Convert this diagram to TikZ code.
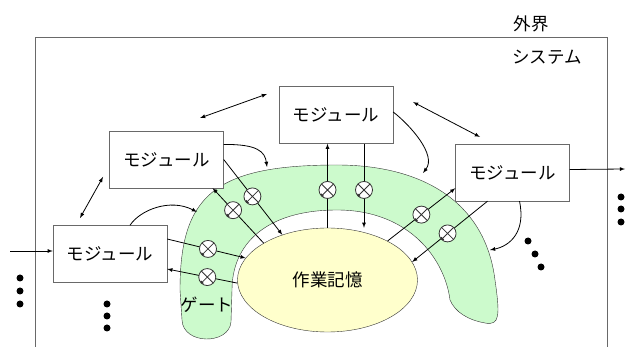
\documentclass[tikz,border=0pt]{standalone}
\usepackage{fontspec}
\setmainfont{Noto Sans CJK JP}
\usepackage{tikz}
\usetikzlibrary{shapes, arrows, positioning, calc}
\definecolor{bandgreen}{RGB}{204,250,204}
\definecolor{memyellow}{RGB}{255,255,204}
\definecolor{framegray}{RGB}{105,105,105}

\begin{document}
\begin{tikzpicture}[x=1pt, y=-1pt, >=latex, font=\fontsize{17.5}{20}\selectfont,
    module/.style={draw=framegray, fill=white, minimum width=114pt, minimum height=57pt, inner sep=0pt},
    gate/.style={circle, draw=black!80, fill=white, minimum size=17pt, inner sep=0pt,
      path picture={\draw[black!80] (path picture bounding box.north west) -- (path picture bounding box.south east)
        (path picture bounding box.north east) -- (path picture bounding box.south west);}},
    link/.style={->, line width=0.8pt},
    twoway/.style={<->, line width=0.8pt}]
    \useasboundingbox (0,0) rectangle (627,347);

    % system frame
    \draw [framegray, thick] (35,347) -- (35,37) -- (607,37) -- (607,347);
    \node (outside) at (531,24) {外界};
    \node (system) at (547,57) {システム};

    % gate band
    \draw [fill=bandgreen, draw=black!80] (180,290) .. controls (180,195) and (215,165) .. (337,165)
      .. controls (420,165) and (485,200) .. (495,280)
      .. controls (500,315) and (500,326) .. (485,323)
      .. controls (468,320) and (455,312) .. (450,300)
      .. controls (445,260) and (410,210) .. (337,210)
      .. controls (265,210) and (232,245) .. (232,290)
      -- (231,322)
      .. controls (229,345) and (183,345) .. (182,320) -- cycle;
    \node (gatelabel) at (207,305) {ゲート};

    \node[ellipse, draw=black!80, fill=memyellow, minimum width=180pt, minimum height=104pt, inner sep=0pt] (wm) at (327.5,280) {作業記憶};

    \node[module] (modtop) at (336,115) {モジュール};
    \node[module] (modleft) at (166.5,159.5) {モジュール};
    \node[module] (modlow) at (110,254) {モジュール};
    \node[module] (modright) at (512.5,172.5) {モジュール};

    \coordinate (inA) at (10,251);
    \coordinate (outA) at (625,169);
    \coordinate (bandA) at (267,167);
    \coordinate (bandB) at (197,212);
    \coordinate (bandC) at (423,173);
    \coordinate (bandD) at (490,250);
    \coordinate (pairA1) at (200,118);
    \coordinate (pairA2) at (267,94);
    \coordinate (pairB1) at (413,102);
    \coordinate (pairB2) at (480,137);
    \coordinate (pairC1) at (103,177);
    \coordinate (pairC2) at (80,218);

    % in and out
    \draw [link] (inA) -- ([yshift=3pt]modlow.west);
    \draw [link] ([yshift=3pt]modright.east) -- (outA);

    % module to module
    \draw [twoway] (pairA1) -- (pairA2);
    \draw [twoway] (pairB1) -- (pairB2);
    \draw [twoway] (pairC1) -- (pairC2);

    % module to band
    \draw [link] ([yshift=15pt]modleft.east) .. controls (258,144) and (265,152) .. (bandA);
    \draw [link] ([xshift=20pt]modlow.north) .. controls (140,210) and (170,198) .. (bandB);
    \draw [link] ([yshift=3pt]modtop.east) .. controls (410,125) and (437,155) .. (bandC);
    \draw [link] ([xshift=7pt]modright.south) .. controls (526,232) and (510,246) .. (bandD);

    % through the gates
    \draw [link] (modleft.east) -- node[gate, pos=0.49] (gA) {} (wm.135);
    \draw [link] (wm.150) -- node[gate, pos=0.6] (gB) {} ([xshift=-11pt]modleft.south east);
    \draw [link] ([yshift=15pt]modlow.east) -- node[gate, pos=0.52] (gC) {} (wm.165);
    \draw [link] (wm.182) -- node[gate, pos=0.43] (gG) {} ([yshift=-15pt]modlow.east);
    \draw [link] (wm.north) -- node[gate, pos=0.45] (gD) {} (wm.north |- modtop.south);
    \draw [link] ([xshift=28pt]modtop.south) -- node[gate, pos=0.55] (gE) {} ([xshift=28pt]modtop.south |- wm.north);
    \draw [link] (wm.33) -- node[gate, pos=0.5] (gF) {} ([yshift=13pt]modright.south west);
    \draw [link] ([xshift=-25pt]modright.south) -- node[gate, pos=0.53] (gH) {} (wm.12);

    % dots
    \foreach \y in {278,291,304} \fill (20,\y) circle (3.5);
    \foreach \y in {304,316,328} \fill (107,\y) circle (3.5);
    \foreach \x/\y in {528/241,535/254,541/267} \fill (\x,\y) circle (3.5);
    \foreach \y in {197,209,222} \fill (621,\y) circle (3.5);
  \end{tikzpicture}
\end{document}
